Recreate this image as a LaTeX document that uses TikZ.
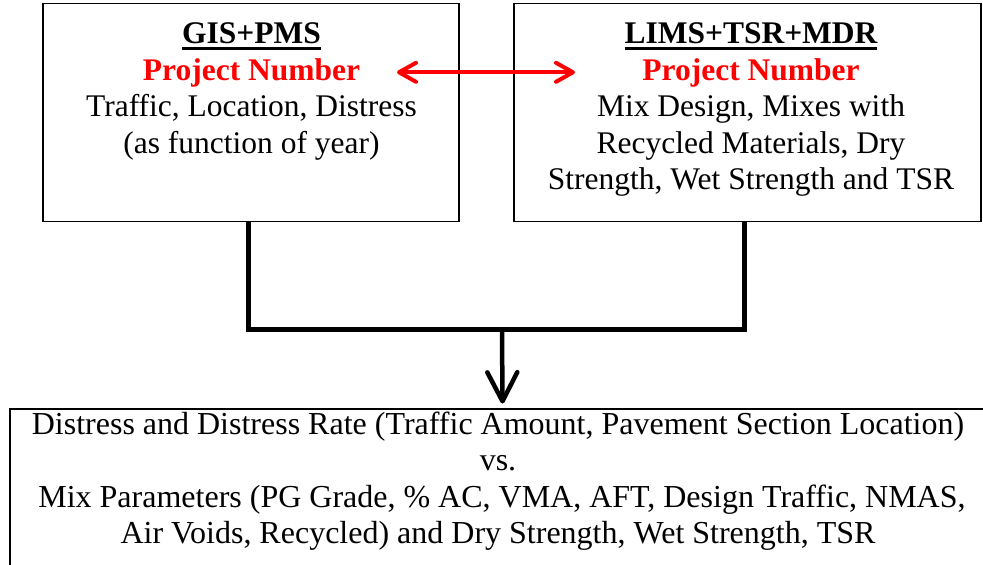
\documentclass[tikz,border=0pt]{standalone}
\usepackage{fontspec}
\setmainfont{Liberation Serif}
\usetikzlibrary{arrows.meta}
\definecolor{pnred}{HTML}{FF0000}

% bold heading with a thick underline
\newsavebox{\headbox}
\newcommand{\boxhead}[1]{\sbox{\headbox}{\bfseries #1}%
  \rlap{\rule[-6pt]{\wd\headbox}{3pt}}\usebox{\headbox}}
% red project-number key
\newcommand{\pnum}{{\bfseries\color{pnred}Project Number}}
% fixes the height of a first line so its baseline sits 24pt below the node top
\newcommand{\firstline}{\rule{0pt}{24pt}}

\begin{document}
\begin{tikzpicture}[x=1pt,y=-1pt,
  frame/.style={draw=black,line width=1.5pt,inner sep=0pt},
  boxtext/.style={inner sep=0pt,align=center,anchor=north,
    font=\fontsize{31.5pt}{36.5pt}\selectfont},
  resulttext/.style={boxtext,font=\fontsize{32pt}{36.5pt}\selectfont},
  link/.style={draw=black,line width=5pt},
  keyarrow/.style={draw=pnred,line width=4pt,
    {Straight Barb[length=17pt,width=19pt,round]}-{Straight Barb[length=17pt,width=19pt,round]}},
  downarrow/.style={draw=black,line width=4.5pt,
    -{Straight Barb[length=29pt,width=30pt,round]}}]

\useasboundingbox (0,0) rectangle (983,565);
\clip (0,0) rectangle (983,565);

% source boxes
\node[frame,minimum width=416pt,minimum height=218pt] (gis) at (251,112.4) {};
\node[frame,minimum width=467pt,minimum height=218pt] (lims) at (747.5,112.4) {};

\node[boxtext] (gisT) at (251.5,19.5) {\firstline\boxhead{GIS+PMS}\\
  \pnum\\
  Traffic, Location, Distress\\
  (as function of year)};
\node[boxtext] (limsT) at (751,19.5) {\firstline\boxhead{LIMS+TSR+MDR}\\
  \pnum\\
  Mix Design, Mixes with\\
  Recycled Materials, Dry\\
  Strength, Wet Strength and TSR};

% result box, running off the right and bottom edges
\node[draw=black,line width=2pt,inner sep=0pt,minimum width=986pt,minimum height=170pt] (res) at (502.5,493.5) {};
\node[resulttext] (resT) at (498,410) {\firstline Distress and Distress Rate (Traffic Amount, Pavement Section Location)\\
  vs.\\
  \hspace*{0.25em}Mix Parameters (PG Grade, \% AC, VMA, AFT, Design Traffic, NMAS,\\
  Air Voids, Recycled) and Dry Strength, Wet Strength, TSR};

% project number links both sources
\coordinate (keyL) at (397,72.3);
\coordinate (keyR) at (575,72.3);
\draw[keyarrow] (keyL) -- (keyR);

% both sources merge into the result
\coordinate (merge) at (502,329.5);
\draw[link] ([xshift=-3pt]gis.south) |- (merge) -| ([xshift=-3.5pt]lims.south);
\draw[downarrow] (merge) -- ([yshift=4pt]res.north);
\end{tikzpicture}
\end{document}
